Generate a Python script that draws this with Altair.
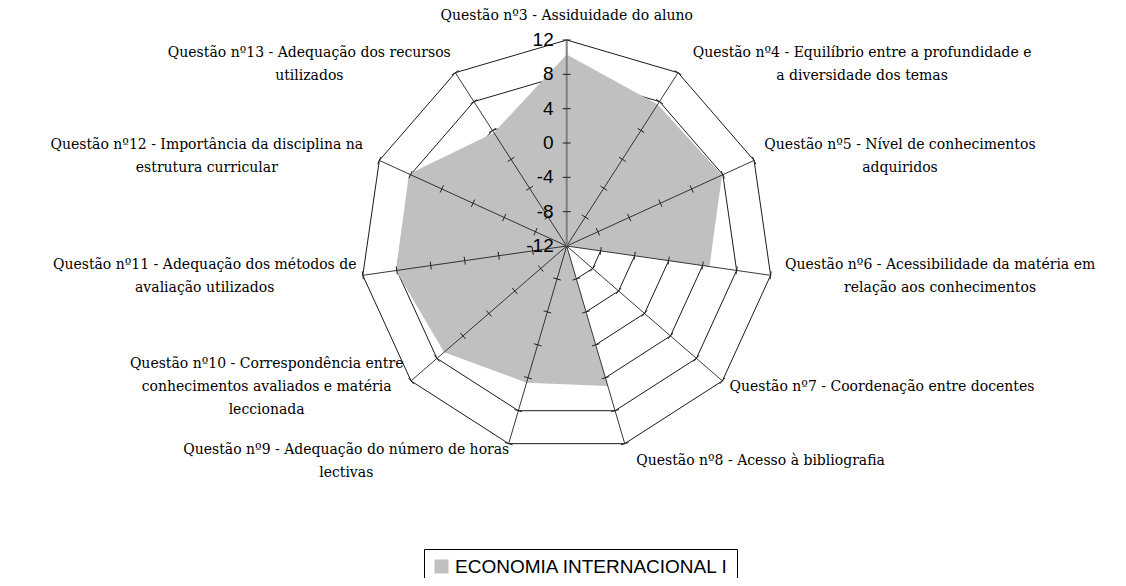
import altair as alt
import pandas as pd

# ---------------- data ----------------
categories = [
    "Questão nº3 - Assiduidade do aluno",
    "Questão nº4 - Equilíbrio entre a profundidade e\na diversidade dos temas",
    "Questão nº5 - Nível de conhecimentos\nadquiridos",
    "Questão nº6 - Acessibilidade da matéria em\nrelação aos conhecimentos",
    "Questão nº7 - Coordenação entre docentes",
    "Questão nº8 - Acesso à bibliografia",
    "Questão nº9 - Adequação do número de horas\nlectivas",
    "Questão nº10 - Correspondência entre\nconhecimentos avaliados e matéria\nleccionada",
    "Questão nº11 - Adequação dos métodos de\navaliação utilizados",
    "Questão nº12 - Importância da disciplina na\nestrutura curricular",
    "Questão nº13 - Adequação dos recursos\nutilizados",
]
values = [10.3, 7.6, 7.9, 4.8, -12, 5.0, 4.6, 6.9, 8.1, 8.2, 3.7]
tick_values = [-12, -8, -4, 0, 4, 8, 12]
series_name = "ECONOMIA INTERNACIONAL I"

# ---------------- geometry / style ----------------
N = len(categories)
vmin, vmax = tick_values[0], tick_values[-1]
span = vmax - vmin
W, H = 1110, 570
R_PX = 206.0
U = R_PX / span            # pixels per value unit
CX, CY = 558.7, 238.0      # centre of the radar in plot pixels
xs = alt.Scale(domain=[-CX / U, (W - CX) / U], nice=False, zero=False)
ys = alt.Scale(domain=[-(H - CY) / U, CY / U], nice=False, zero=False)
PAD = 10 / U
TICK_H = 4 / U
LINE_H = 23
CHAR_W = 7.6              # approx. average glyph width of the label font

ANG = f"datum.idx * 2 * PI / {N}"

# tables built from the arrays
poly_df = pd.DataFrame({
    "idx": list(range(N + 1)),
    "value": [values[i % N] for i in range(N + 1)],
    "series": [series_name] * (N + 1),
})
ring_df = pd.DataFrame([
    {"level": lv, "idx": i} for lv in tick_values[1:] for i in range(N + 1)
])
spoke_df = pd.DataFrame({"idx": list(range(N))})
tick_df = pd.DataFrame([
    {"level": lv, "idx": i} for lv in tick_values[1:] for i in range(N)
])
vlab_df = pd.DataFrame({"level": tick_values})
lab_df = pd.DataFrame({"idx": list(range(N)), "label": categories})

X = lambda f: alt.X(f, type="quantitative", scale=xs, axis=None)
Y = lambda f: alt.Y(f, type="quantitative", scale=ys, axis=None)

# grid rings
rings = alt.Chart(ring_df).transform_calculate(
    ang=ANG, r=f"datum.level - ({vmin})"
).transform_calculate(
    px="datum.r * sin(datum.ang)", py="datum.r * cos(datum.ang)"
).mark_line(color="black", strokeWidth=0.9).encode(
    x=X("px"), y=Y("py"), detail="level:N", order="idx:Q"
)

# filled series polygon
poly = alt.Chart(poly_df).transform_calculate(
    ang=ANG, r=f"datum.value - ({vmin})"
).transform_calculate(
    px="datum.r * sin(datum.ang)", py="datum.r * cos(datum.ang)"
).mark_line(filled=True, strokeWidth=0).encode(
    x=X("px"), y=Y("py"), order="idx:Q",
    color=alt.Color(
        "series:N",
        scale=alt.Scale(domain=[series_name], range=["#c0c0c0"]),
        legend=alt.Legend(
            title=None, orient="none", legendX=416, legendY=541,
            symbolType="square", symbolSize=196, symbolStrokeWidth=0,
            labelFont="Liberation Sans", labelFontSize=19, labelColor="black",
            labelLimit=600, labelOffset=4, strokeColor="black",
            fillColor="white", padding=8,
        ),
    ),
)

# spokes
spoke_base = alt.Chart(spoke_df).transform_calculate(
    ang=ANG, zero="0"
).transform_calculate(
    ex=f"{span} * sin(datum.ang)", ey=f"{span} * cos(datum.ang)"
)
spokes = spoke_base.transform_filter("datum.idx != 0").mark_rule(
    color="#222222", strokeWidth=0.9
).encode(x=X("zero"), y=Y("zero"), x2="ex:Q", y2="ey:Q")
vaxis = spoke_base.transform_filter("datum.idx == 0").mark_rule(
    color="#808080", strokeWidth=2
).encode(x=X("zero"), y=Y("zero"), x2="ex:Q", y2="ey:Q")

# tick marks across spokes
ticks = alt.Chart(tick_df).transform_calculate(
    ang=ANG, r=f"datum.level - ({vmin})"
).transform_calculate(
    x1=f"datum.r * sin(datum.ang) + {TICK_H} * cos(datum.ang)",
    y1=f"datum.r * cos(datum.ang) - {TICK_H} * sin(datum.ang)",
    x2=f"datum.r * sin(datum.ang) - {TICK_H} * cos(datum.ang)",
    y2=f"datum.r * cos(datum.ang) + {TICK_H} * sin(datum.ang)",
).mark_rule(color="#222222", strokeWidth=1).encode(
    x=X("x1"), y=Y("y1"), x2="x2:Q", y2="y2:Q"
)

# value labels on the vertical axis
vlabels = alt.Chart(vlab_df).transform_calculate(
    r=f"datum.level - ({vmin})", zero="0", lab="toString(datum.level)"
).mark_text(
    align="right", baseline="middle", dx=-13, font="Liberation Sans",
    fontSize=19, color="black"
).encode(x=X("zero"), y=Y("r"), text="lab:N")

# category labels: block placed beyond the axis end, lines centred
labels = alt.Chart(lab_df).transform_calculate(
    ang=ANG,
    first="split(datum.label, '\\n')[0]",
    nl="length(split(datum.label, '\\n'))",
).transform_calculate(
    s="sin(datum.ang)",
    c="cos(datum.ang)",
    w=f"length(datum.first) * {CHAR_W}",
).transform_calculate(
    side="datum.s > 0.2 ? 1 : (datum.s < -0.2 ? -1 : 0)",
).transform_calculate(
    px=f"{span + PAD} * datum.s + datum.side * datum.w / 2 / {U}",
    py=f"{span + PAD} * datum.c + (datum.nl - 1) * {LINE_H} / 2 / {U}"
       f" + (datum.side == 0 ? 14 / {U} : 0)"
       f" - (datum.c < -0.9 ? 8 / {U} : 0)",
).mark_text(
    align="center", baseline="middle", font="DejaVu Serif", fontSize=14,
    color="black", lineHeight=LINE_H, lineBreak="\n",
).encode(x=X("px"), y=Y("py"), text="label:N")

chart = alt.layer(
    rings, poly, spokes, vaxis, ticks, vlabels, labels
).properties(
    width=W, height=H, padding=0, autosize=alt.AutoSizeParams(type="none")
).configure_view(stroke=None)

chart.save("out.html", embed_options={"renderer": "svg", "actions": False})
